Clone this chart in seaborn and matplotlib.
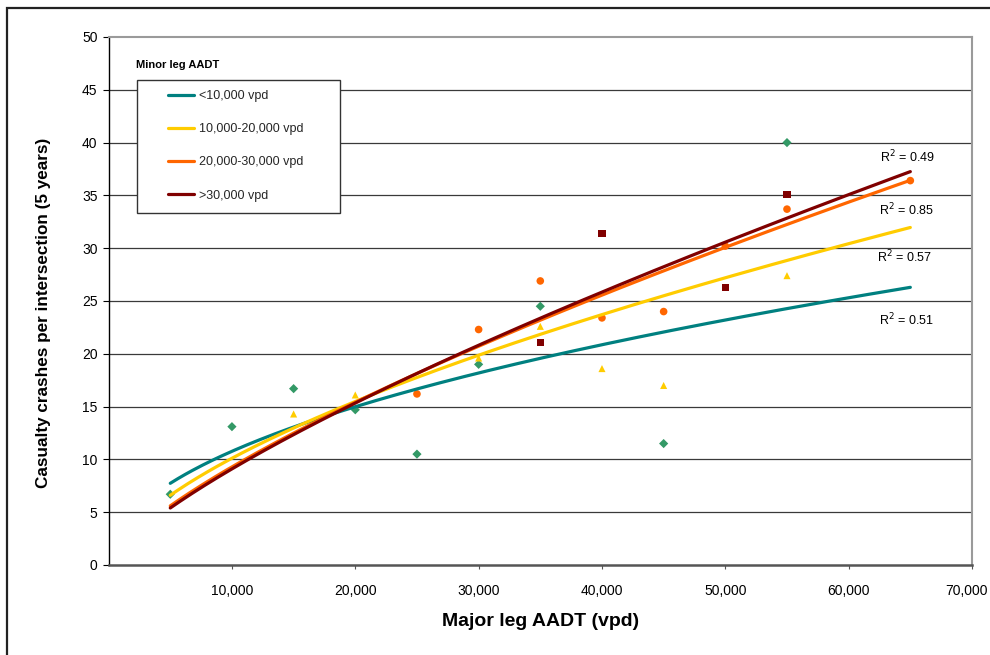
import numpy as np
import pandas as pd
import matplotlib
matplotlib.use("Agg")
import matplotlib.pyplot as plt
import matplotlib.transforms as mtransforms
import seaborn as sns
from matplotlib.patches import Rectangle
from matplotlib.lines import Line2D

# ---------------- data ----------------
groups = ["<10,000 vpd", "10,000-20,000 vpd", "20,000-30,000 vpd", ">30,000 vpd"]

x_lt10 = [5000, 10000, 15000, 20000, 25000, 30000, 35000, 45000, 55000]
y_lt10 = [6.7, 13.1, 16.7, 14.7, 10.5, 19.0, 24.5, 11.5, 40.0]

x_10_20 = [15000, 20000, 30000, 35000, 40000, 45000, 55000]
y_10_20 = [14.3, 16.1, 19.6, 22.6, 18.6, 17.0, 27.4]

x_20_30 = [25000, 30000, 35000, 40000, 45000, 50000, 55000, 65000]
y_20_30 = [16.2, 22.3, 26.9, 23.4, 24.0, 30.2, 33.7, 36.4]

x_gt30 = [35000, 40000, 50000, 55000]
y_gt30 = [21.1, 31.4, 26.3, 35.1]

# power trendlines  y = a * (x/1000)^b
trend_a = [3.59, 2.453, 1.73, 1.607]
trend_b = [0.477, 0.615, 0.730, 0.753]
trend_range = [5000, 65000]
r2_values = [0.51, 0.57, 0.85, 0.49]

y_ticks = [0, 5, 10, 15, 20, 25, 30, 35, 40, 45, 50]
x_ticks = [10000, 20000, 30000, 40000, 50000, 60000, 70000]
x_tick_labels = ["10,000", "20,000", "30,000", "40,000", "50,000", "60,000", "70,000"]

# ---------------- styles ----------------
line_colors = ["#008080", "#FFCC00", "#FF6600", "#800000"]
marker_colors = ["#339966", "#FFCC00", "#FF6600", "#800000"]
markers = ["D", "^", "o", "s"]
marker_sizes = [22, 26, 30, 28]

sns.set_theme(style="white")
plt.rcParams["font.family"] = ["Liberation Sans", "DejaVu Sans"]

pts = pd.concat([
    pd.DataFrame({"x": xs, "y": ys, "group": g})
    for xs, ys, g in zip([x_lt10, x_10_20, x_20_30, x_gt30],
                         [y_lt10, y_10_20, y_20_30, y_gt30], groups)
], ignore_index=True)

xs_line = np.linspace(trend_range[0], trend_range[1], 300)
trend = pd.concat([
    pd.DataFrame({"x": xs_line, "y": a * (xs_line / 1000.0) ** b, "group": g})
    for a, b, g in zip(trend_a, trend_b, groups)
], ignore_index=True)

fig = plt.figure(figsize=(9.9, 6.55), dpi=100)
ax = fig.add_axes([108.6 / 990, 1 - 565 / 655, (972 - 108.6) / 990, (565 - 37) / 655])

# gridlines
for yv in y_ticks[1:-1]:
    ax.axhline(yv, color="#3a3a3a", lw=0.9, zorder=1)

# scatter points
for g, c, m, s in zip(groups, marker_colors, markers, marker_sizes):
    sns.scatterplot(data=pts[pts.group == g], x="x", y="y", color=c, marker=m,
                    s=s, edgecolor="none", linewidth=0, ax=ax, zorder=3, legend=False)

# trendlines
for g, c in zip(groups, line_colors):
    sns.lineplot(data=trend[trend.group == g], x="x", y="y", color=c, lw=2.3,
                 ax=ax, zorder=4, legend=False)

ax.set_xlim(0, 70000)
ax.set_ylim(0, 50)
ax.set_yticks(y_ticks)
ax.set_xticks(x_ticks)
ax.set_xticklabels(x_tick_labels)

ax.tick_params(axis="y", which="both", left=True, direction="out", length=4,
               width=0.8, color="black", labelsize=10, pad=4, labelcolor="black")
ax.tick_params(axis="x", which="both", bottom=True, direction="out", length=3,
               width=0.8, color="#555555", labelsize=10, pad=11, labelcolor="black")

# nudge the last x tick label inward so it fits, as in the original
last_lbl = ax.get_xticklabels()[-1]
last_lbl.set_transform(last_lbl.get_transform() +
                       mtransforms.ScaledTranslation(-6 / 100, 0, fig.dpi_scale_trans))

for side in ["top", "right"]:
    ax.spines[side].set_color("#9a9a9a")
    ax.spines[side].set_linewidth(1.5)
ax.spines["left"].set_color("black")
ax.spines["left"].set_linewidth(1.0)
ax.spines["bottom"].set_color("#555555")
ax.spines["bottom"].set_linewidth(1.8)

ax.set_xlabel("Major leg AADT (vpd)", fontsize=14, fontweight="bold", color="black")
ax.set_ylabel("Casualty crashes per intersection (5 years)", fontsize=12.3,
              fontweight="bold", color="black")
ax.xaxis.set_label_coords(0.5, (565 - 622) / 528)
ax.xaxis.label.set_va("center")
ax.yaxis.set_label_coords((44 - 108.6) / 863.4, (565 - 313) / 528)
ax.yaxis.label.set_va("center")

# R^2 labels
r2_pos = [(64700, 23.2), (64500, 29.2), (64700, 33.6), (64800, 38.6)]
for (px, py), r in zip(r2_pos, r2_values):
    ax.text(px, py, f"R$^2$ = {r:.2f}", fontsize=9, ha="center", va="center",
            color="black", zorder=5)

# legend: title, box, entries
def ax_x(px):
    return (px - 108.6) / 863.4

def ax_y(py):
    return (565 - py) / 528

ax.text(ax_x(136), ax_y(65), "Minor leg AADT", transform=ax.transAxes,
        fontsize=8, fontweight="bold", ha="left", va="center", color="black")
ax.add_patch(Rectangle((ax_x(137), ax_y(213)), ax_x(340) - ax_x(137),
                       ax_y(80) - ax_y(213), transform=ax.transAxes,
                       facecolor="white", edgecolor="#333333", lw=1.0, zorder=6))
handles = [Line2D([0], [0], color=c, lw=2.3) for c in line_colors]
leg = ax.legend(handles, groups, loc="upper left",
                bbox_to_anchor=(ax_x(168), ax_y(90)), frameon=False,
                fontsize=9, handlelength=2.1, handletextpad=0.35,
                labelspacing=1.7, borderpad=0, borderaxespad=0)
leg.set_zorder(7)

# outer chart-area border
fig.patches.append(Rectangle((7 / 990, -0.05), 1.2, 1 - 8 / 655 + 0.05,
                             transform=fig.transFigure, fill=False,
                             edgecolor="#222222", lw=1.6, zorder=10))

fig.savefig("out.png", dpi=100)
